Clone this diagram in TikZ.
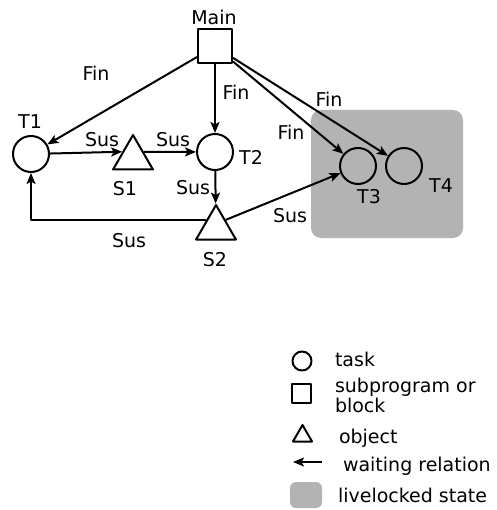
\documentclass[tikz,border=0pt]{standalone}
\usepackage{fontspec}
\setmainfont{DejaVu Sans}
\usetikzlibrary{arrows.meta,shapes.geometric}
\tikzstyle{every node}=[font=\fontsize{19}{20}\selectfont]
\tikzstyle{task}=[draw, circle, minimum size=36pt, inner sep=0pt]
\tikzstyle{obj}=[draw, regular polygon, regular polygon sides=3, minimum size=46pt, inner sep=0pt]
\tikzstyle{sub}=[draw, rectangle, minimum size=34pt, inner sep=0pt]
\tikzstyle{wait}=[-{Stealth[length=11pt, width=9pt, inset=2.5pt]}]
\tikzstyle{lbl}=[inner sep=0pt]
\definecolor{livegray}{RGB}{179,179,179}

\begin{document}
\begin{tikzpicture}[x=1pt, y=-1pt, line width=2pt, line join=round]
  \useasboundingbox (0,0) rectangle (496,510);

  % Livelocked region
  \fill[livegray, rounded corners=10pt] (311,110) rectangle (463,238);

  % Main block
  \node[sub] (Main) at (215,46.5) {};
  \node[lbl] (mainlbl) at (214,17) {Main};

  % Tasks
  \node[task] (T1) at (31,154) {};
  \node[task] (T2) at (215,152) {};
  \node[task] (T3) at (358,166) {};
  \node[task] (T4) at (404,166) {};

  % Objects
  \node[obj] (S1) at (133,158) {};
  \node[obj] (S2) at (216,228) {};

  % Points on the triangle sides
  \path (S1.corner 1) -- (S1.corner 2) coordinate[pos=0.5] (s1l);
  \path (S1.corner 1) -- (S1.corner 3) coordinate[pos=0.5] (s1r);
  \path (S2.corner 1) -- (S2.corner 2) coordinate[pos=0.45] (s2l);
  \path (S2.corner 1) -- (S2.corner 3) coordinate[pos=0.45] (s2r);

  % Fin relations
  \draw[wait] (Main) -- (T1);
  \draw[wait] (Main) -- (T2);
  \draw[wait] (Main) -- (T3);
  \draw[wait] (Main) -- (T4);

  % Sus relations
  \draw[wait] (T1) -- (s1l);
  \draw[wait] (s1r) -- (T2);
  \draw[wait] (T2) -- (S2);
  \draw[wait] (s2l) -| (T1);
  \draw[wait] (s2r) -- (T3);

  % Edge labels
  \node[lbl] (fin1) at (96,73) {Fin};
  \node[lbl] (fin2) at (236,92) {Fin};
  \node[lbl] (fin3) at (291,132) {Fin};
  \node[lbl] (fin4) at (329,99) {Fin};
  \node[lbl] (sus1) at (102,140) {Sus};
  \node[lbl] (sus2) at (173,140) {Sus};
  \node[lbl] (sus3) at (193,188) {Sus};
  \node[lbl] (sus4) at (129,241) {Sus};
  \node[lbl] (sus5) at (290,216) {Sus};

  % Node labels
  \node[lbl] (t1lbl) at (30,122) {T1};
  \node[lbl] (t2lbl) at (251,157) {T2};
  \node[lbl] (t3lbl) at (369,197) {T3};
  \node[lbl] (t4lbl) at (441,186) {T4};
  \node[lbl] (s1lbl) at (125,189) {S1};
  \node[lbl] (s2lbl) at (215,260) {S2};

  % Legend
  \node[task, minimum size=19pt] (legtask) at (302,361) {};
  \node[sub, minimum size=19pt] (legsub) at (301.5,393) {};
  \node[obj, minimum size=22pt] (legobj) at (302.5,436) {};
  \coordinate (legA) at (322,462);
  \coordinate (legB) at (293,462);
  \draw[wait] (legA) -- (legB);
  \fill[livegray, rounded corners=6pt] (290,482) rectangle (322,508);

  \node[lbl, anchor=west] (legtasktxt) at (334,359) {task};
  \node[lbl, anchor=west, align=left] (legsubtxt) at (334,395) {subprogram or\\block};
  \node[lbl, anchor=west] (legobjtxt) at (338,438) {object};
  \node[lbl, anchor=west] (legwaittxt) at (342,466) {waiting relation};
  \node[lbl, anchor=west] (leglivetxt) at (337,495) {livelocked state};
\end{tikzpicture}
\end{document}
